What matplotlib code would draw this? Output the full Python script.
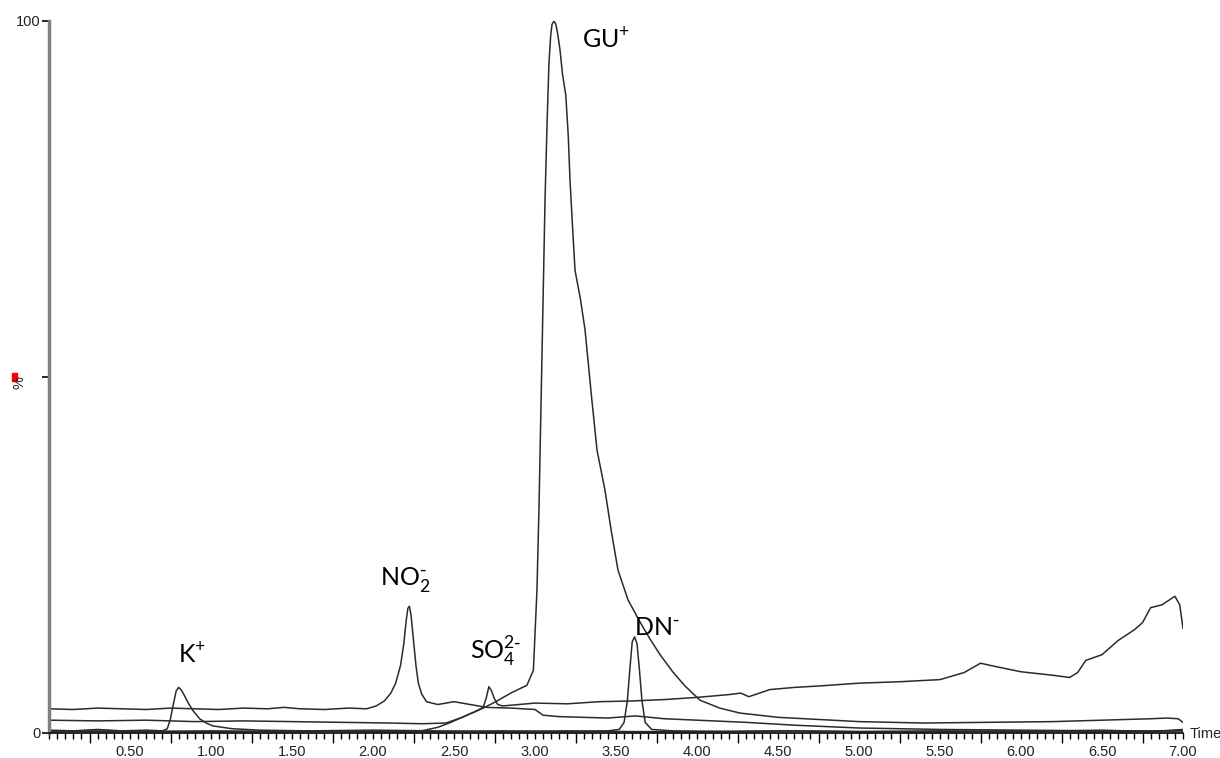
import numpy as np
import matplotlib
matplotlib.use('Agg')
import matplotlib.pyplot as plt
from matplotlib.ticker import MultipleLocator, FixedLocator, NullFormatter, FuncFormatter
from matplotlib.patches import Rectangle

# retention time (min) / relative intensity (%)
# K+ trace
k_t = [0.0, 0.15, 0.3, 0.45, 0.6, 0.7, 0.73, 0.75, 0.77, 0.785, 0.8, 0.815, 0.835, 0.86, 0.89,
       0.93, 0.97, 1.01, 1.13, 1.3, 1.6, 2.0, 2.4, 2.8, 3.2, 3.6, 4.0, 4.5, 5.0, 5.5, 6.0,
       6.5, 6.8, 7.0]
k_y = [0.4, 0.3, 0.5, 0.3, 0.4, 0.3, 0.6, 2.0, 4.3, 5.9, 6.4, 6.1, 5.3, 4.2, 3.1,
       2.0, 1.4, 1.0, 0.6, 0.4, 0.3, 0.4, 0.3, 0.2, 0.3, 0.2, 0.2, 0.3, 0.2, 0.3, 0.2,
       0.4, 0.2, 0.5]

# NO2- trace
no2_t = [0.0, 0.15, 0.3, 0.45, 0.6, 0.75, 0.9, 1.05, 1.2, 1.35, 1.45, 1.55, 1.7, 1.85, 1.96,
         2.02, 2.07, 2.11, 2.14, 2.17, 2.19, 2.205, 2.215, 2.225, 2.235, 2.25, 2.265, 2.28,
         2.3, 2.33, 2.4, 2.5, 2.6, 2.7, 2.85, 3.0, 3.05, 3.15, 3.3, 3.45, 3.62, 3.8, 4.0,
         4.3, 4.6, 5.0, 5.5, 6.0, 6.5, 7.0]
no2_y = [3.4, 3.3, 3.5, 3.4, 3.3, 3.5, 3.4, 3.3, 3.5, 3.4, 3.6, 3.4, 3.3, 3.5, 3.4,
         3.8, 4.5, 5.6, 7.0, 9.5, 12.5, 15.8, 17.5, 17.8, 16.5, 13.0, 9.5, 7.0,
         5.5, 4.4, 4.0, 4.4, 4.0, 3.6, 3.5, 3.3, 2.5, 2.3, 2.2, 2.1, 2.4, 2.0, 1.8,
         1.5, 1.1, 0.7, 0.5, 0.4, 0.3, 0.3]

# SO4 2- trace (rising baseline towards the end)
so4_t = [0.0, 0.3, 0.6, 0.9, 1.2, 1.5, 1.8, 2.1, 2.3, 2.45, 2.55, 2.63, 2.68, 2.7, 2.715,
         2.73, 2.75, 2.77, 2.8, 2.9, 3.0, 3.2, 3.4, 3.6, 3.8, 4.0, 4.2, 4.27, 4.32, 4.45, 4.6,
         4.75, 5.0, 5.25, 5.5, 5.65, 5.75, 5.85, 6.0, 6.2, 6.3, 6.35, 6.4, 6.5, 6.6, 6.7,
         6.75, 6.8, 6.87, 6.95, 6.98, 7.0]
so4_y = [1.8, 1.7, 1.8, 1.6, 1.7, 1.6, 1.5, 1.4, 1.3, 1.4, 2.2, 3.0, 3.6, 5.0, 6.5,
         6.0, 4.8, 4.0, 3.8, 4.0, 4.2, 4.1, 4.4, 4.5, 4.7, 5.0, 5.4, 5.6, 5.1, 6.1, 6.4,
         6.6, 7.0, 7.2, 7.5, 8.5, 9.8, 9.3, 8.6, 8.1, 7.8, 8.5, 10.2, 11.0, 13.0, 14.5,
         15.5, 17.6, 18.0, 19.2, 18.0, 14.7]

# GU+ trace
gu_t = [0.0, 0.5, 1.0, 1.5, 2.0, 2.3, 2.4, 2.47, 2.55, 2.62, 2.68, 2.75, 2.85, 2.95, 2.99,
        3.012, 3.025, 3.037, 3.05, 3.062, 3.075, 3.086, 3.097, 3.105, 3.117, 3.128, 3.14,
        3.154, 3.17, 3.19, 3.205, 3.216, 3.232, 3.247, 3.28, 3.309, 3.35, 3.383, 3.432,
        3.47, 3.512, 3.574, 3.648, 3.71, 3.772, 3.85, 3.926, 4.019, 4.14, 4.265, 4.5,
        5.0, 5.4, 5.8, 6.2, 6.5, 6.8, 6.9, 6.97, 7.0]
gu_y = [0.3, 0.2, 0.3, 0.2, 0.3, 0.3, 0.8, 1.4, 2.2, 2.9, 3.5, 4.3, 5.6, 6.7, 8.8,
        20.0, 32.0, 46.0, 61.0, 75.0, 86.0, 94.0, 98.0, 99.5, 100.0, 99.6, 98.2,
        96.0, 92.5, 89.6, 84.0, 77.7, 71.0, 65.0, 61.0, 56.6, 47.0, 39.7, 34.1,
        28.5, 22.9, 18.7, 15.6, 13.2, 11.0, 8.6, 6.6, 4.6, 3.5, 2.8, 2.2,
        1.6, 1.4, 1.5, 1.6, 1.8, 2.0, 2.1, 2.0, 1.5]

# DN- trace
dn_t = [0.0, 0.4, 0.8, 1.2, 1.6, 2.0, 2.4, 2.8, 3.2, 3.45, 3.52, 3.55, 3.57, 3.585, 3.6,
        3.615, 3.63, 3.645, 3.66, 3.68, 3.72, 3.85, 4.2, 4.6, 5.0, 5.5, 6.0, 6.5, 7.0]
dn_y = [0.2, 0.3, 0.2, 0.2, 0.3, 0.2, 0.2, 0.3, 0.2, 0.3, 0.5, 1.5, 4.5, 8.8, 12.8,
        13.5, 12.5, 8.8, 4.6, 1.5, 0.5, 0.3, 0.2, 0.3, 0.2, 0.2, 0.3, 0.2, 0.3]

traces = [(k_t, k_y), (no2_t, no2_y), (so4_t, so4_y), (gu_t, gu_y), (dn_t, dn_y)]

# peak labels: (text, x, baseline y)
labels = [(r'K$^{\mathregular{+}}$', 0.796, 9.8),
          (r'NO$_{\mathregular{2}}^{\text{-}}$', 2.043, 20.8),
          (r'SO$_{\mathregular{4}}^{\mathregular{2}\text{-}}$', 2.60, 10.25),
          (r'GU$^{\mathregular{+}}$', 3.29, 96.2),
          (r'DN$^{\text{-}}$', 3.61, 13.8)]

fig = plt.figure(figsize=(12.2, 7.58), dpi=100)
ax = fig.add_axes([49/1220, 1-733/758, (1183-49)/1220, (733-21)/758])

for t, y in traces:
    ax.plot(t, y, color='#2b2b2b', lw=1.1)

for txt, x, y in labels:
    ax.text(x, y, txt, fontsize=18, family=['Lato', 'DejaVu Sans'], color='black',
            ha='left', va='baseline')

ax.set_xlim(0, 7.0)
ax.set_ylim(0, 100)

for s in ['top', 'right']:
    ax.spines[s].set_visible(False)
ax.spines['left'].set_color('#808080')
ax.spines['left'].set_linewidth(2.5)
ax.spines['bottom'].set_color('black')
ax.spines['bottom'].set_linewidth(1.2)

# x ticks: long ticks at x.25 / x.75, short ones every 0.05, labels every 0.5
ax.xaxis.set_major_locator(FixedLocator(np.arange(0.25, 7.01, 0.5)))
ax.xaxis.set_major_formatter(NullFormatter())
ax.xaxis.set_minor_locator(MultipleLocator(0.05))
def xfmt(v, pos):
    if v > 0.01 and abs(v / 0.5 - round(v / 0.5)) < 1e-6:
        return '%.2f' % v
    return ''
ax.xaxis.set_minor_formatter(FuncFormatter(xfmt))
ax.tick_params(axis='x', which='major', length=7, width=1, color='black', direction='out')
ax.tick_params(axis='x', which='minor', length=4.5, width=1, color='black', direction='out',
               labelsize=10.5, pad=4)

ax.set_yticks([0, 50, 100])
ax.set_yticklabels(['0', '', '100'])
ax.tick_params(axis='y', length=5, width=1.2, color='black', labelsize=10.5, pad=1)

for lab in ax.get_xticklabels(minor=True) + ax.get_yticklabels():
    lab.set_family(['Liberation Sans', 'DejaVu Sans'])
    lab.set_color('#222222')

ax.annotate('Time', xy=(1, 0), xycoords='axes fraction', xytext=(5, -1),
            textcoords='offset points', ha='left', va='center', fontsize=10.5,
            family=['Liberation Sans', 'DejaVu Sans'], color='#222222')

fig.text(20/1220, 1-383/758, '%', rotation=90, ha='center', va='center', fontsize=10.5,
         family=['Liberation Sans', 'DejaVu Sans'], color='#222222')
fig.patches.append(Rectangle((12/1220, 1-381/758), 4.5/1220, 8/758, color='red',
                             transform=fig.transFigure, figure=fig))

fig.savefig('out.png', dpi=100)
